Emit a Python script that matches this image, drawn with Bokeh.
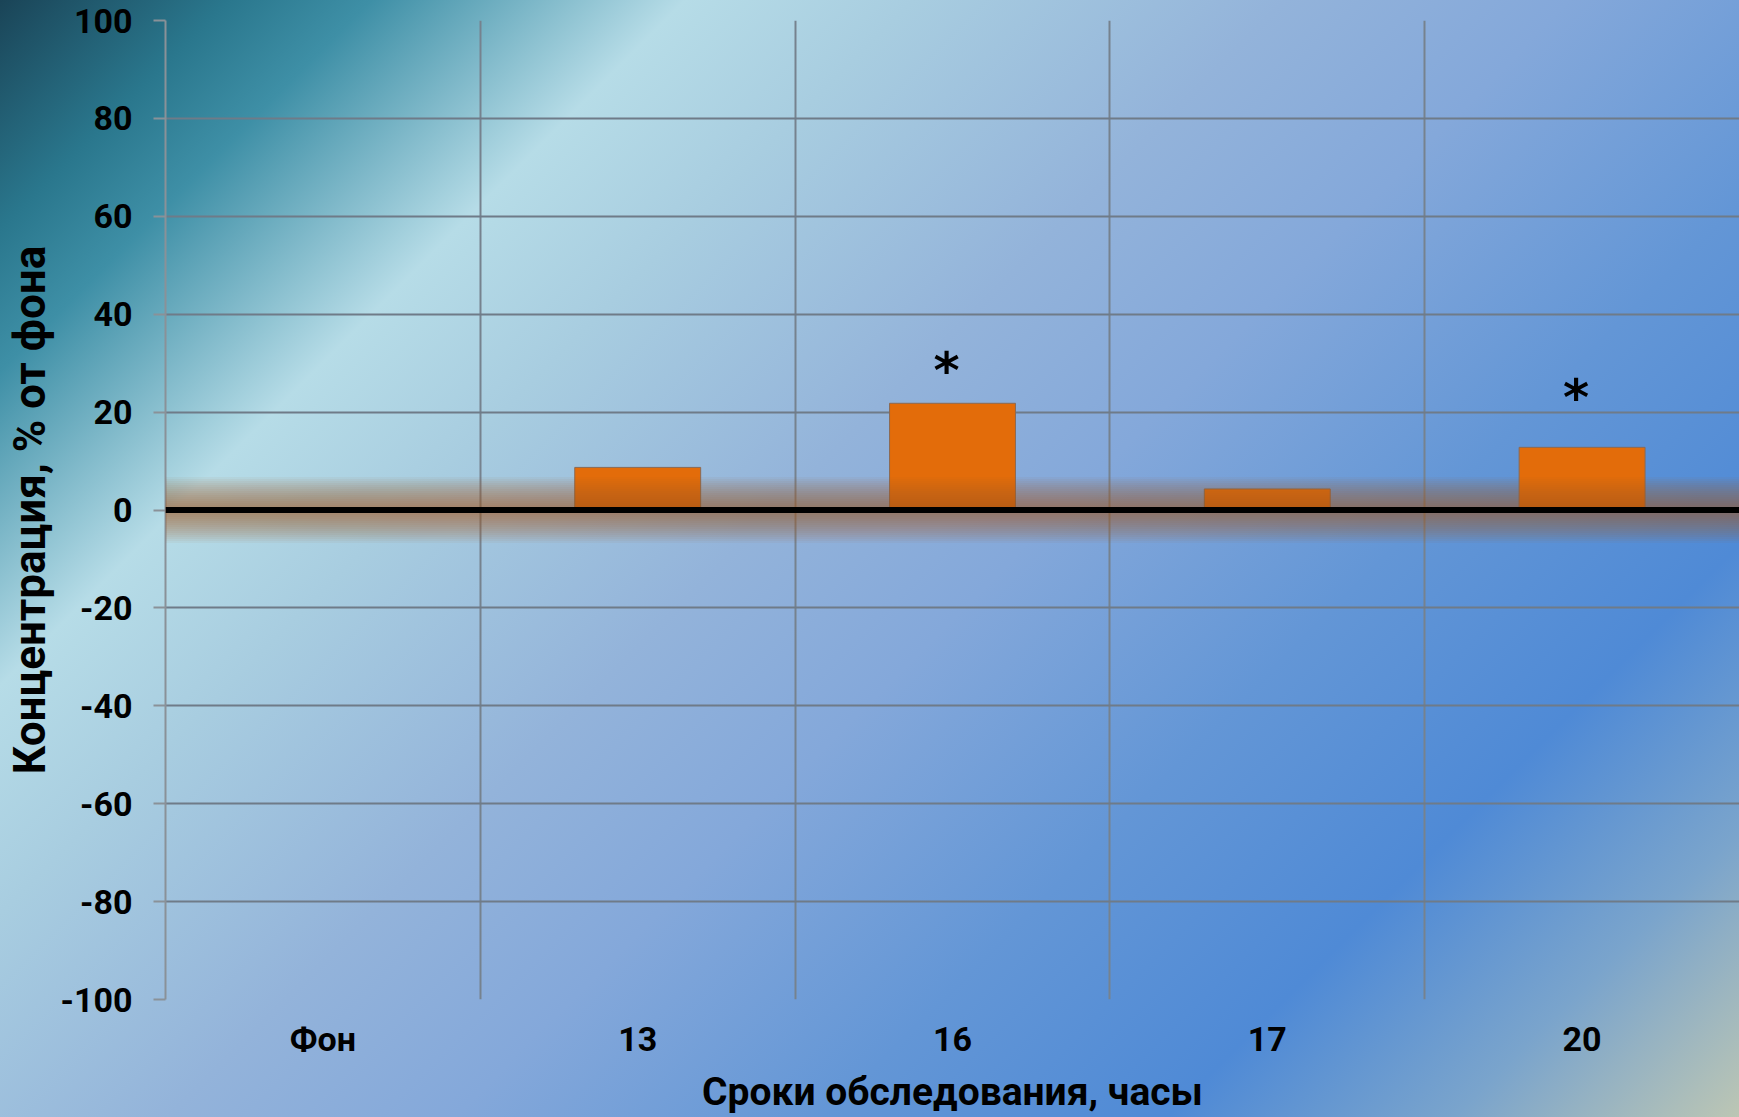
from bokeh.plotting import figure
from bokeh.models import FixedTicker, Span, Range1d
from bokeh.embed import file_html
from bokeh.resources import INLINE
from bokeh.core.properties import value

# ---- data ----
categories = ["Фон", "13", "16", "17", "20"]
concentration = [0.0, 8.7, 21.8, 4.3, 12.8]
star_categories = ["16", "20"]
star_levels = [30.2, 24.8]
y_ticks = [-100, -80, -60, -40, -20, 0, 20, 40, 60, 80, 100]
x_title = "Сроки обследования, часы"
y_title = "Концентрация, % от фона"

# positions of categories on a numeric axis (category i occupies [i, i+1])
x_centers = [i + 0.5 for i in range(len(categories))]
boundaries = list(range(1, len(categories)))
star_x = [x_centers[categories.index(c)] for c in star_categories]

FONT = "Roboto"

p = figure(width=1739, height=1117,
           x_range=Range1d(0, len(categories)), y_range=Range1d(-100, 100),
           output_backend="svg", toolbar_location=None,
           min_border_left=165, min_border_right=0,
           min_border_top=20, min_border_bottom=118)

p.background_fill_color = None
p.border_fill_color = None
p.outline_line_color = None
p.styles = {
    "background": "linear-gradient(135deg, #1a4457 0%, #2a778d 8%, #3e8fa6 13%, "
                  "#b6dce7 24%, #a8cde0 32%, #93b3da 45%, #84a8da 55%, #6396d6 68%, "
                  "#4f8ad6 80%, #7aa4cc 90%, #bcc6b4 100%)"
}

# grids
p.ygrid.ticker = FixedTicker(ticks=y_ticks)
p.ygrid.grid_line_color = "#6f7b88"
p.ygrid.grid_line_width = 2
p.xgrid.ticker = FixedTicker(ticks=boundaries)
p.xgrid.grid_line_color = "#76828e"
p.xgrid.grid_line_width = 2

# y axis
p.yaxis.ticker = FixedTicker(ticks=y_ticks)
p.yaxis.major_label_overrides = {t: str(t) for t in y_ticks}
p.yaxis.axis_line_color = "#8a9198"
p.yaxis.axis_line_width = 2
p.yaxis.major_tick_line_color = "#8a9198"
p.yaxis.major_tick_line_width = 2
p.yaxis.major_tick_out = 12
p.yaxis.major_tick_in = 0
p.yaxis.minor_tick_line_color = None
p.yaxis.major_label_standoff = 21
p.yaxis.major_label_text_font = FONT
p.yaxis.major_label_text_font_style = "bold"
p.yaxis.major_label_text_font_size = "34px"
p.yaxis.major_label_text_color = "black"
p.yaxis.axis_label = y_title
p.yaxis.axis_label_text_font = FONT
p.yaxis.axis_label_text_font_style = "bold"
p.yaxis.axis_label_text_font_size = "44px"
p.yaxis.axis_label_text_color = "black"
p.yaxis.axis_label_standoff = 2

# x axis
p.xaxis.ticker = FixedTicker(ticks=x_centers)
p.xaxis.major_label_overrides = {x: c for x, c in zip(x_centers, categories)}
p.xaxis.axis_line_color = None
p.xaxis.major_tick_line_color = None
p.xaxis.major_tick_out = 0
p.xaxis.major_tick_in = 0
p.xaxis.minor_tick_line_color = None
p.xaxis.major_label_standoff = 19
p.xaxis.major_label_text_font = FONT
p.xaxis.major_label_text_font_style = "bold"
p.xaxis.major_label_text_font_size = "34px"
p.xaxis.major_label_text_color = "black"
p.xaxis.axis_label = x_title
p.xaxis.axis_label_text_font = FONT
p.xaxis.axis_label_text_font_style = "bold"
p.xaxis.axis_label_text_font_size = "39px"
p.xaxis.axis_label_text_color = "black"
p.xaxis.axis_label_standoff = 7

# bars
p.vbar(x=x_centers, top=concentration, bottom=0, width=0.4,
       fill_color="#e36c0a", line_color="#8a6a55", line_width=1)

# soft glow around zero line
for w in range(66, 6, -4):
    p.add_layout(Span(location=0, dimension="width", line_color="#a65a2a",
                      line_width=w, line_alpha=0.055))
p.add_layout(Span(location=0, dimension="width", line_color="black", line_width=6))

# significance marks
p.text(x=star_x, y=star_levels, text=["*"] * len(star_x),
       text_font=value("DejaVu Sans"), text_font_style="bold",
       text_font_size="50px", text_align="center", text_baseline="middle",
       text_color="black", x_offset=-6, y_offset=9)

open("out.html", "w").write(file_html(p, INLINE))
